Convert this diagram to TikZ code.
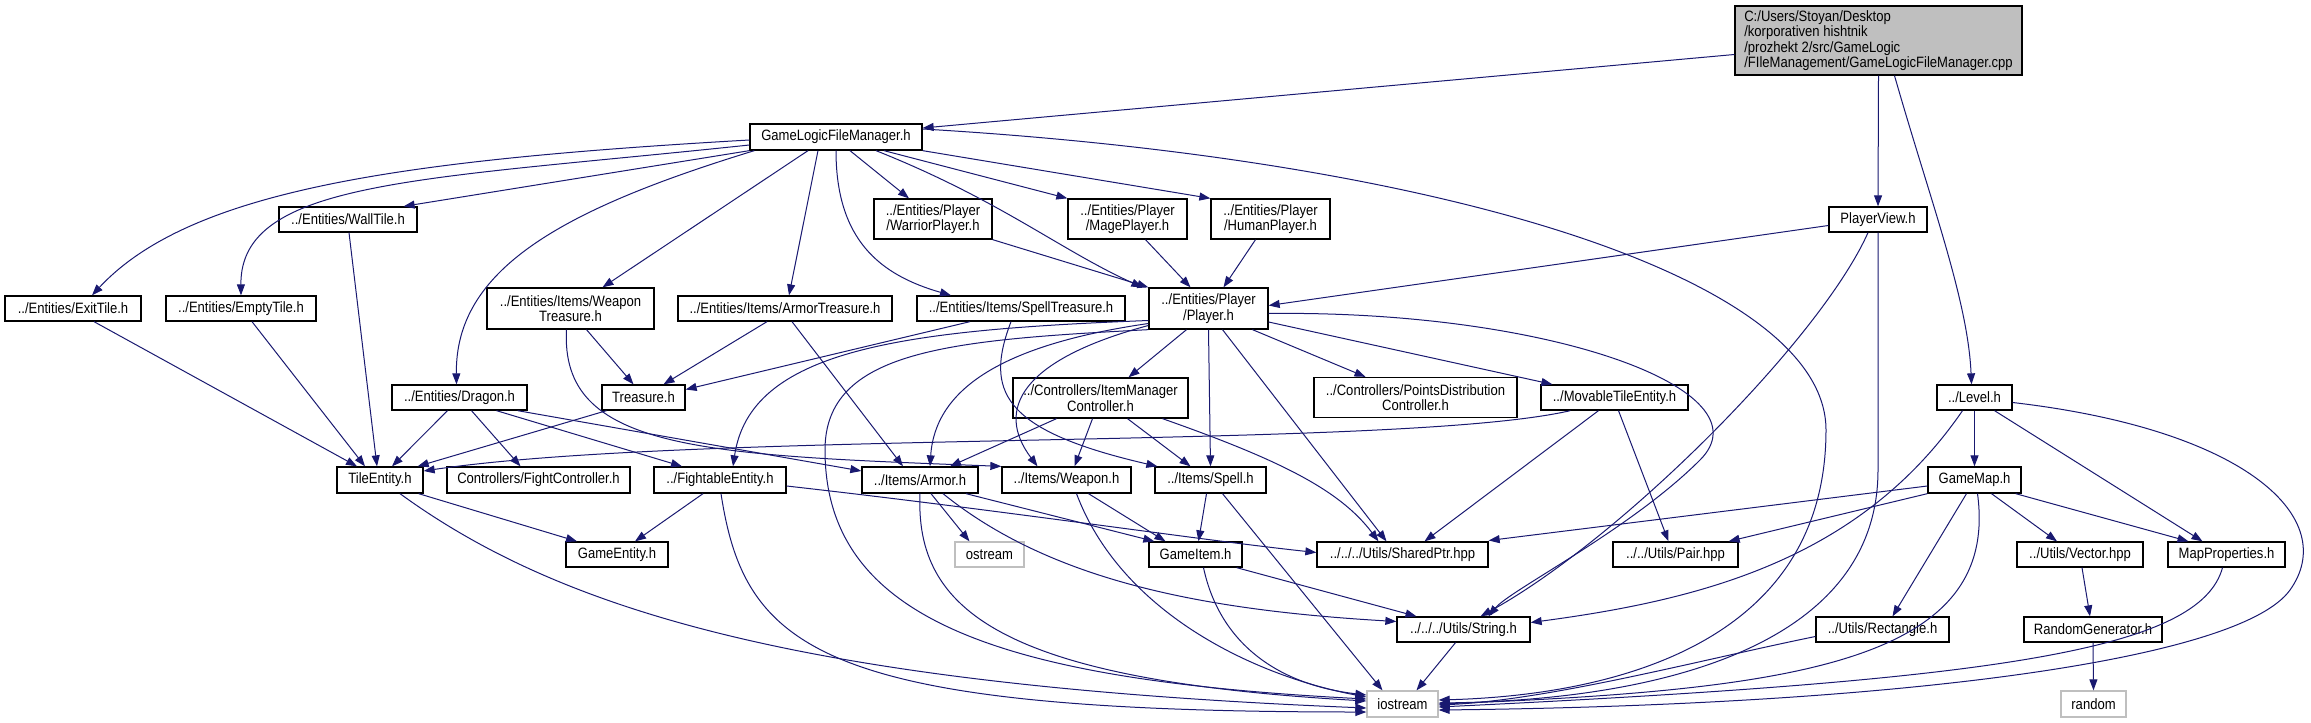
\documentclass[tikz,border=0pt]{standalone}
\usepackage{fontspec}
\setmainfont{Liberation Sans}[FakeStretch=0.87]
\usepackage{tikz}
\usetikzlibrary{arrows.meta}
\definecolor{edgeblue}{HTML}{191970}
\definecolor{rootgray}{HTML}{BFBFBF}
\definecolor{extgray}{HTML}{BFBFBF}
\begin{document}
\begin{tikzpicture}[x=1pt,y=-1pt,
		hfile/.style={draw=black, line width=1.3pt, fill=white, inner sep=0pt, minimum height=25pt, align=center, font=\fontsize{15}{15.5}\selectfont},
		hroot/.style={hfile, fill=rootgray, align=left},
		hext/.style={hfile, draw=extgray},
		inc/.style={draw=edgeblue, line width=1pt, -{Triangle[length=11pt,width=8pt]}}]
		\useasboundingbox (0,0) rectangle (2311,723);
		\node[hroot, minimum width=287pt, minimum height=69pt] (root) at (1878.5,40.5) {C:/Users/Stoyan/Desktop\\/korporativen hishtnik\\/prozhekt 2/src/GameLogic\\/FIleManagement/GameLogicFileManager.cpp};
		\node[hfile, minimum width=172pt, minimum height=26pt] (glfm) at (836,137) {GameLogicFileManager.h};
		\node[hfile, minimum width=138pt] (walltile) at (348,219.5) {../Entities/WallTile.h};
		\node[hfile, minimum width=118pt, minimum height=40pt] (warrior) at (933,219) {../Entities/Player\\/WarriorPlayer.h};
		\node[hfile, minimum width=119pt, minimum height=40pt] (mage) at (1127.5,219) {../Entities/Player\\/MagePlayer.h};
		\node[hfile, minimum width=119pt, minimum height=40pt] (human) at (1270.5,219) {../Entities/Player\\/HumanPlayer.h};
		\node[hfile, minimum width=98pt] (playerview) at (1878,219.5) {PlayerView.h};
		\node[hfile, minimum width=136pt] (exittile) at (73,308.5) {../Entities/ExitTile.h};
		\node[hfile, minimum width=150pt] (emptytile) at (241,308.5) {../Entities/EmptyTile.h};
		\node[hfile, minimum width=167pt, minimum height=41pt] (wtreasure) at (570.5,308.5) {../Entities/Items/Weapon\\Treasure.h};
		\node[hfile, minimum width=214pt] (atreasure) at (785,308.5) {../Entities/Items/ArmorTreasure.h};
		\node[hfile, minimum width=208pt] (streasure) at (1021,308.5) {../Entities/Items/SpellTreasure.h};
		\node[hfile, minimum width=119pt, minimum height=41pt] (player) at (1208.5,308.5) {../Entities/Player\\/Player.h};
		\node[hfile, minimum width=135pt] (dragon) at (459.5,397.5) {../Entities/Dragon.h};
		\node[hfile, minimum width=83pt] (treasure) at (643.5,397.5) {Treasure.h};
		\node[hfile, minimum width=175pt, minimum height=40pt] (itemmgr) at (1100.5,398) {../Controllers/ItemManager\\Controller.h};
		\node[hfile, minimum width=203pt, minimum height=40pt] (pointsdist) at (1415.5,397.5) {../Controllers/PointsDistribution\\Controller.h};
		\node[hfile, minimum width=147pt] (movable) at (1614.5,397.5) {../MovableTileEntity.h};
		\node[hfile, minimum width=75pt] (level) at (1974.5,397.5) {../Level.h};
		\node[hfile, minimum width=86pt, minimum height=26pt] (tileentity) at (380,480) {TileEntity.h};
		\node[hfile, minimum width=183pt, minimum height=26pt] (fightctrl) at (538.5,480) {Controllers/FightController.h};
		\node[hfile, minimum width=132pt, minimum height=26pt] (fightable) at (720,480) {../FightableEntity.h};
		\node[hfile, minimum width=116pt, minimum height=26pt] (armor) at (920,480) {../Items/Armor.h};
		\node[hfile, minimum width=129pt, minimum height=26pt] (weapon) at (1066.5,480) {../Items/Weapon.h};
		\node[hfile, minimum width=111pt, minimum height=26pt] (spell) at (1210.5,480) {../Items/Spell.h};
		\node[hfile, minimum width=93pt, minimum height=26pt] (gamemap) at (1974.5,480) {GameMap.h};
		\node[hfile, minimum width=102pt] (gameentity) at (617,554.5) {GameEntity.h};
		\node[hext, minimum width=69pt] (ostream) at (989.5,554.5) {ostream};
		\node[hfile, minimum width=93pt] (gameitem) at (1195.5,554.5) {GameItem.h};
		\node[hfile, minimum width=171pt] (sharedptr) at (1402.5,554.5) {../../../Utils/SharedPtr.hpp};
		\node[hfile, minimum width=125pt] (pair) at (1675.5,554.5) {../../Utils/Pair.hpp};
		\node[hfile, minimum width=126pt] (vector) at (2080,554.5) {../Utils/Vector.hpp};
		\node[hfile, minimum width=117pt] (mapprops) at (2226.5,554.5) {MapProperties.h};
		\node[hfile, minimum width=133pt] (string) at (1463.5,629.5) {../../../Utils/String.h};
		\node[hfile, minimum width=133pt] (rectangle) at (1882.5,629.5) {../Utils/Rectangle.h};
		\node[hfile, minimum width=138pt] (randgen) at (2093,629.5) {RandomGenerator.h};
		\node[hext, minimum width=71pt, minimum height=26pt] (iostream) at (1402.5,704) {iostream};
		\node[hext, minimum width=65pt, minimum height=26pt] (random) at (2093.5,704) {random};
		\draw[inc] ([yshift=-14pt]root.west) -- ([yshift=9pt]glfm.east);
		\draw[inc] (root.south) -- (playerview.north);
		\draw[inc] ([xshift=16pt]root.south) .. controls (1930,200) and (1968,300) .. ([xshift=-3pt]level.north);
		\draw[inc] ([yshift=-3pt]glfm.west) .. controls (400,160) and (190,190) .. ([xshift=19pt]exittile.north);
		\draw[inc] ([yshift=-8pt]glfm.west) .. controls (420,180) and (240,180) .. (emptytile.north);
		\draw[inc] (glfm.south west) -- ([xshift=-14pt]walltile.north east);
		\draw[inc] ([xshift=5pt]glfm.south west) .. controls (560,210) and (455,270) .. ([xshift=-3pt]dragon.north);
		\draw[inc] ([xshift=-28pt]glfm.south) -- ([xshift=32pt]wtreasure.north);
		\draw[inc] ([xshift=-18pt]glfm.south) -- ([xshift=4pt]atreasure.north);
		\draw[inc] (glfm.south) .. controls (836,240) and (880,275) .. ([xshift=-70pt]streasure.north);
		\draw[inc] ([xshift=14pt]glfm.south) -- ([xshift=-24pt]warrior.north);
		\draw[inc] ([xshift=40pt]glfm.south) .. controls (1000,200) and (1060,250) .. ([xshift=-6pt]player.north west);
		\draw[inc] ([xshift=48pt]glfm.south) -- (mage.north west);
		\draw[inc] (glfm.south east) -- (human.north west);
		\draw[inc] ([yshift=8pt]glfm.east) .. controls (1450,160) and (1826,280) .. (1826,430) .. controls (1826,640) and (1620,695) .. ([yshift=4pt]iostream.east);
		\draw[inc] ([yshift=-6pt]playerview.west) -- ([yshift=3pt]player.east);
		\draw[inc] ([xshift=-10pt]playerview.south) .. controls (1820,340) and (1620,540) .. ([xshift=17pt]string.north);
		\draw[inc] (playerview.south) -- (1878,470) .. controls (1878,650) and (1650,700) .. ([yshift=1pt]iostream.east);
		\draw[inc] (level.south) -- (gamemap.north);
		\draw[inc] ([xshift=20pt]level.south) -- ([xshift=-24pt]mapprops.north);
		\draw[inc] ([xshift=-12pt]level.south) .. controls (1860,560) and (1700,600) .. ([yshift=7pt]string.east);
		\draw[inc] ([yshift=-5pt]level.east) .. controls (2250,430) and (2340,520) .. (2290,590) .. controls (2240,660) and (1900,705) .. ([yshift=-6pt]iostream.east);
		\draw[inc] ([yshift=-6pt]gamemap.west) -- ([yshift=14pt]sharedptr.east);
		\draw[inc] (gamemap.south west) -- ([xshift=-10pt]pair.north east);
		\draw[inc] ([xshift=-8pt]gamemap.south) -- ([xshift=10pt]rectangle.north);
		\draw[inc] ([xshift=17pt]gamemap.south) -- ([xshift=-23pt]vector.north);
		\draw[inc] ([xshift=-6pt]gamemap.south east) -- ([xshift=-38pt]mapprops.north);
		\draw[inc] ([xshift=3pt]gamemap.south) .. controls (2000,660) and (1800,690) .. (iostream.east);
		\draw[inc] ([xshift=-4pt]mapprops.south) .. controls (2200,650) and (2000,680) .. ([yshift=-3pt]iostream.east);
		\draw[inc] ([yshift=-7pt]rectangle.west) .. controls (1700,660) and (1550,700) .. ([yshift=-1pt]iostream.east);
		\draw[inc] ([xshift=2pt]vector.south) -- ([xshift=-3pt]randgen.north);
		\draw[inc] (randgen.south) -- (random.north);
		\draw[inc] ([xshift=30pt]movable.south west) .. controls (1400,450) and (700,430) .. ([yshift=9pt]tileentity.east);
		\draw[inc] ([xshift=4pt]movable.south) -- ([xshift=-7pt]pair.north);
		\draw[inc] ([xshift=-16pt]movable.south) -- ([xshift=22pt]sharedptr.north);
		\draw[inc] ([xshift=-22pt]player.south) -- ([xshift=28pt]itemmgr.north);
		\draw[inc] (player.south) -- (spell.north);
		\draw[inc] ([xshift=44pt]player.south) -- ([xshift=-50pt]pointsdist.north);
		\draw[inc] ([yshift=-13.5pt]player.east) -- ([xshift=12pt]movable.north west);
		\draw[inc] ([xshift=14pt]player.south) -- ([xshift=-16pt]sharedptr.north);
		\draw[inc] ([yshift=-5pt]player.east) .. controls (1550,310) and (1770,390) .. (1700,460) .. controls (1630,530) and (1510,590) .. ([xshift=25pt]string.north);
		\draw[inc] ([yshift=-12pt]player.west) .. controls (900,330) and (750,350) .. ([xshift=13pt]fightable.north);
		\draw[inc] ([yshift=-15pt]player.west) .. controls (1000,345) and (935,390) .. ([xshift=10pt]armor.north);
		\draw[inc] ([yshift=-17pt]player.west) .. controls (1020,360) and (995,410) .. ([xshift=-29pt]weapon.north);
		\draw[inc] (player.south west) .. controls (950,340) and (825,350) .. (825,450) .. controls (825,620) and (1000,680) .. ([yshift=5pt]iostream.west);
		\draw[inc] ([xshift=-44pt]itemmgr.south) -- ([xshift=30pt]armor.north);
		\draw[inc] ([xshift=-8pt]itemmgr.south) -- ([xshift=8pt]weapon.north);
		\draw[inc] ([xshift=27pt]itemmgr.south) -- ([xshift=-20pt]spell.north);
		\draw[inc] ([xshift=62pt]itemmgr.south) .. controls (1280,460) and (1340,490) .. ([xshift=-24pt]sharedptr.north);
		\draw[inc] ([xshift=16pt]wtreasure.south) -- ([xshift=-10pt]treasure.north);
		\draw[inc] ([xshift=-4pt]wtreasure.south) .. controls (560,450) and (700,455) .. (weapon.north west);
		\draw[inc] ([xshift=-18pt]atreasure.south) -- ([xshift=20pt]treasure.north);
		\draw[inc] ([xshift=7pt]atreasure.south) -- ([xshift=-17pt]armor.north);
		\draw[inc] ([xshift=-51pt]streasure.south) -- ([yshift=8pt]treasure.east);
		\draw[inc] ([xshift=-10pt]streasure.south) .. controls (985,390) and (1000,430) .. ([xshift=3pt]spell.north west);
		\draw[inc] (warrior.south east) -- (player.north west);
		\draw[inc] ([xshift=18pt]mage.south) -- ([xshift=-18pt]player.north);
		\draw[inc] ([xshift=-15pt]human.south) -- ([xshift=15pt]player.north);
		\draw[inc] ([xshift=-12pt]dragon.south) -- ([xshift=12pt]tileentity.north);
		\draw[inc] ([xshift=12pt]dragon.south) -- ([xshift=-18pt]fightctrl.north);
		\draw[inc] ([xshift=37pt]dragon.south) -- ([xshift=-38pt]fightable.north);
		\draw[inc] ([xshift=-10pt]dragon.south east) -- ([yshift=9pt]armor.west);
		\draw[inc] ([xshift=-37pt]treasure.south) -- ([xshift=-6pt]tileentity.north east);
		\draw[inc] ([xshift=21pt]exittile.south) -- ([xshift=-23pt]tileentity.north);
		\draw[inc] ([xshift=11pt]emptytile.south) -- ([xshift=-15pt]tileentity.north);
		\draw[inc] ([xshift=1pt]walltile.south) -- ([xshift=-3pt]tileentity.north);
		\draw[inc] ([xshift=-5pt]tileentity.south east) -- ([xshift=-40pt]gameentity.north);
		\draw[inc] ([xshift=20pt]tileentity.south) .. controls (560,610) and (800,685) .. ([yshift=-4pt]iostream.west);
		\draw[inc] ([xshift=-17pt]fightable.south) -- ([xshift=18pt]gameentity.north);
		\draw[inc] ([xshift=1pt]fightable.south) .. controls (745,650) and (820,712) .. ([yshift=-8pt]iostream.west);
		\draw[inc] ([yshift=-6pt]fightable.east) .. controls (1000,510) and (1200,540) .. ([yshift=2pt]sharedptr.west);
		\draw[inc] ([xshift=11pt]armor.south) -- ([xshift=-20pt]ostream.north);
		\draw[inc] ([xshift=46pt]armor.south) -- ([xshift=6pt]gameitem.north west);
		\draw[inc] ([xshift=23pt]armor.south) .. controls (1050,580) and (1200,610) .. ([yshift=8pt]string.west);
		\draw[inc] (armor.south) .. controls (915,610) and (1000,680) .. ([yshift=3pt]iostream.west);
		\draw[inc] ([xshift=22pt]weapon.south) -- ([xshift=-30pt]gameitem.north);
		\draw[inc] ([xshift=10pt]weapon.south) .. controls (1120,610) and (1250,675) .. ([yshift=7pt]iostream.west);
		\draw[inc] ([xshift=-4pt]spell.south) -- ([xshift=3pt]gameitem.north);
		\draw[inc] ([xshift=12pt]spell.south) -- ([xshift=-20pt]iostream.north);
		\draw[inc] ([xshift=-6pt]gameitem.south east) -- ([xshift=-47pt]string.north);
		\draw[inc] ([xshift=8pt]gameitem.south) .. controls (1220,645) and (1280,685) .. ([yshift=9pt]iostream.west);
		\draw[inc] ([xshift=-8pt]string.south) -- ([xshift=14pt]iostream.north);
\end{tikzpicture}
\end{document}
